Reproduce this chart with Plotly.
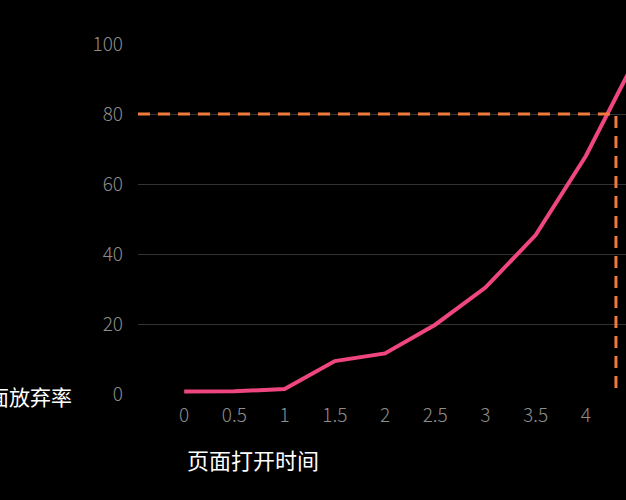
import plotly.graph_objects as go

# page load time (s) vs abandonment rate (%)
load_time = [0, 0.5, 1, 1.5, 2, 2.5, 3, 3.5, 4, 4.5]
abandon_rate = [0.7, 0.8, 1.4, 9.4, 11.6, 19.8, 30.4, 45.4, 68, 96]
tick_vals = [0, 0.5, 1, 1.5, 2, 2.5, 3, 3.5, 4]
tick_text = ['0', '0.5', '1', '1.5', '2', '2.5', '3', '3.5', '4']

# marker lines (threshold)
mark_rate = 80
mark_time = 4.3

x_min, x_max = -0.46, 4.40

tick_font = dict(family='Noto Sans CJK SC', size=19, color='#8c8c8c', weight=300)

fig = go.Figure()
fig.add_trace(go.Scatter(
    x=load_time, y=abandon_rate, mode='lines',
    line=dict(color='#ef4680', width=4),
    hoverinfo='skip', showlegend=False))
fig.add_trace(go.Scatter(
    x=[x_min, mark_time, mark_time], y=[mark_rate, mark_rate, 0], mode='lines',
    line=dict(color='#ee7a3c', width=3, dash='12px,8px'),
    hoverinfo='skip', showlegend=False))

fig.update_xaxes(range=[x_min, x_max], tickvals=tick_vals, ticktext=tick_text,
                 showgrid=False, zeroline=False, showline=False, ticks='',
                 ticklabelstandoff=8, tickfont=tick_font)
fig.update_yaxes(range=[0, 100], tickvals=[0, 20, 40, 60, 80, 100],
                 showgrid=True, gridcolor='#333333', gridwidth=1,
                 zeroline=False, showline=False, ticks='', ticklabelstandoff=14,
                 tickfont=tick_font)

fig.add_annotation(text='页面打开时间', xref='x', yref='paper', x=0.01, y=-0.186,
                   xanchor='left', yanchor='middle', showarrow=False,
                   font=dict(family='Noto Sans CJK SC', size=22, color='#ffffff'))
fig.add_annotation(text='页面放弃率', xref='paper', yref='paper', x=-0.131, y=-0.006,
                   xanchor='right', yanchor='middle', showarrow=False,
                   font=dict(family='Noto Sans CJK SC', size=21, color='#ffffff'))

fig.update_layout(width=626, height=500,
                  margin=dict(l=138, r=0, t=44, b=106),
                  paper_bgcolor='#000000', plot_bgcolor='#000000')
fig.write_html('out.html', config={'displayModeBar': False},
               post_script="document.body.style.margin='0';document.body.style.background='#000';")
